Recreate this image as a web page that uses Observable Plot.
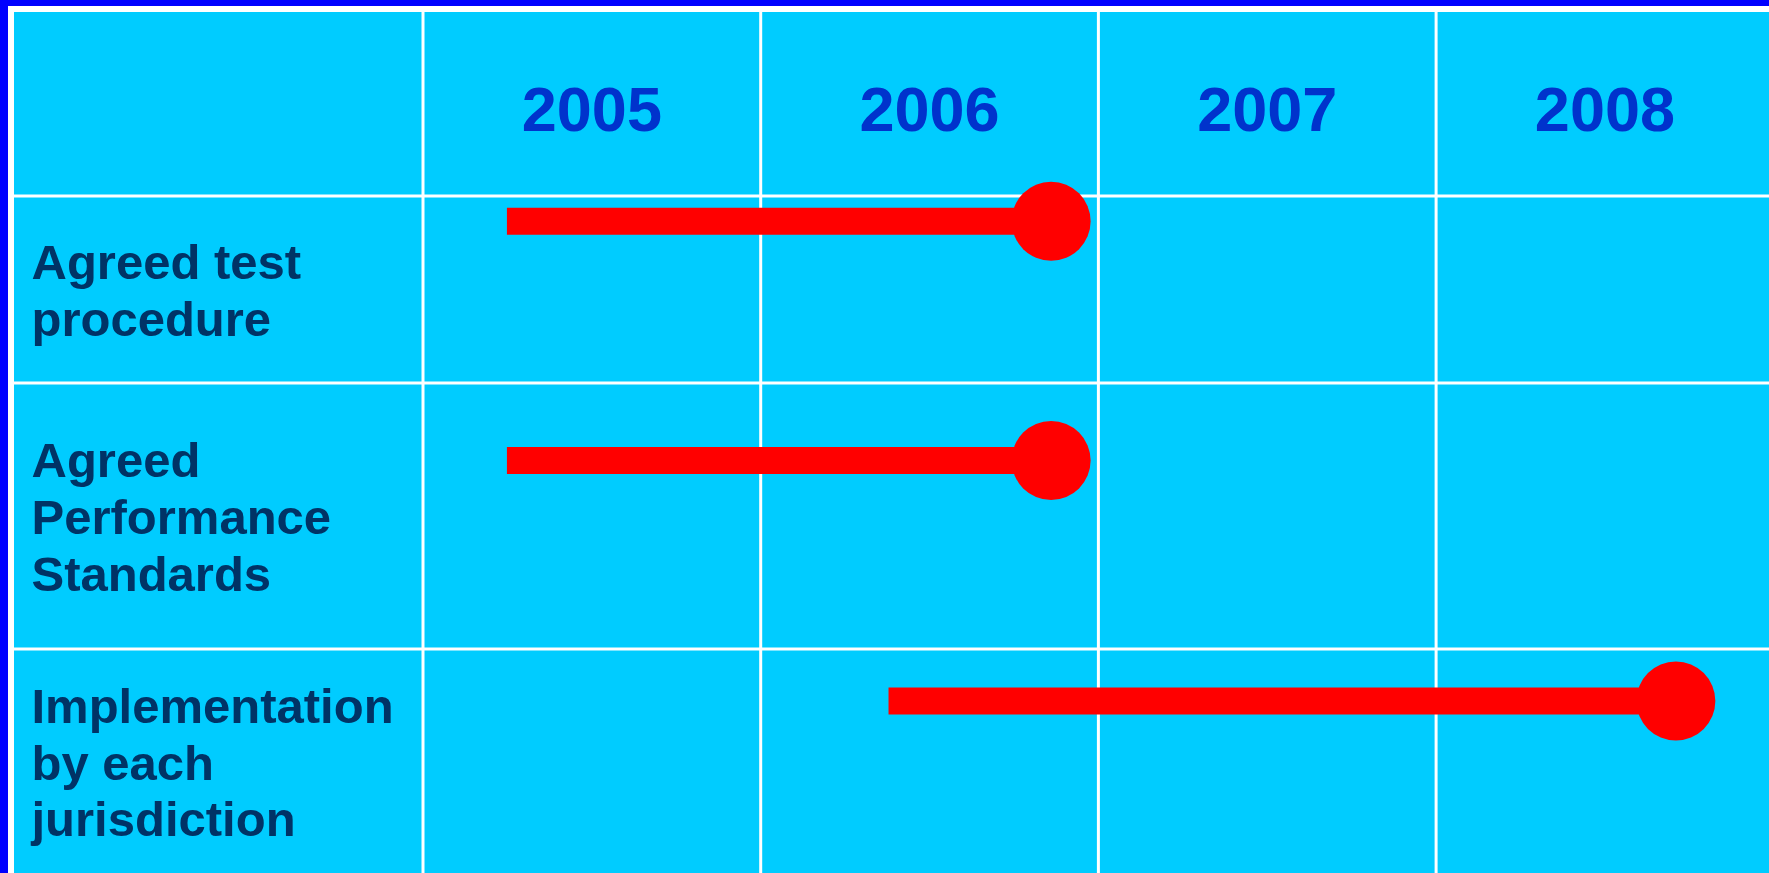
<!DOCTYPE html>
<html>
<head>
<meta charset="utf-8">
<script src="https://cdn.jsdelivr.net/npm/d3@7"></script>
<script src="https://cdn.jsdelivr.net/npm/@observablehq/plot@0.6"></script>
<style>
  html, body { margin: 0; padding: 0; background: #0000FF; overflow: hidden; width: 1769px; height: 873px; }
  #frame { position: absolute; left: 8px; top: 6px; width: 1761px; height: 867px; background: #FFFFFF; }
  #chart { position: absolute; left: 6px; top: 6px; }
  #chart svg { display: block; }
</style>
</head>
<body>
<div id="frame"><div id="chart"></div></div>
<script>
// ---- data ----
const years = [2005, 2006, 2007, 2008];
const tasks = ["Agreed test\nprocedure", "Agreed\nPerformance\nStandards", "Implementation\nby each\njurisdiction"];
const startYears = [2005.25, 2005.25, 2006.38];
const endYears = [2006.86, 2006.86, 2008.71];

// ---- layout (pixels, identity y scale) ----
const W = 1755, H = 861;
const rowEdges = [0, 183.5, 370.5, 636.5, H];
const barY = [208.75, 448, 688.5];
const rowCenter = i => (rowEdges[i + 1] + rowEdges[i + 2]) / 2;
const headerCenter = (rowEdges[0] + rowEdges[1]) / 2;

const taskRows = tasks.map((t, i) => ({
  label: t, start: startYears[i], end: endYears[i], yc: rowCenter(i), yb: barY[i]
}));
const yearRows = years.map(y => ({year: y, xc: y + 0.5}));

const font = "'Liberation Sans', Arial, Helvetica, sans-serif";

const chart = Plot.plot({
  width: W,
  height: H,
  marginLeft: 0, marginRight: 0, marginTop: 0, marginBottom: 0,
  x: {domain: [2005, 2009], range: [408.5, 1759.3], axis: null},
  y: {type: "identity", axis: null},
  style: {background: "#00CCFF", fontFamily: font, overflow: "visible"},
  marks: [
    // grid
    Plot.ruleX(years, {x: d => d, stroke: "#FFFFFF", strokeWidth: 3}),
    Plot.ruleY(rowEdges.slice(1, 4), {y: d => d, stroke: "#FFFFFF", strokeWidth: 3}),
    // year headers
    Plot.text(yearRows, {
      x: "xc", y: () => headerCenter, dy: 7, text: d => String(d.year),
      fill: "#0033CC", fontSize: 63, fontWeight: "bold", textAnchor: "middle", lineAnchor: "middle"
    }),
    // task labels
    Plot.text(taskRows, {
      frameAnchor: "left", dx: 17, y: "yc", text: "label",
      fill: "#003366", fontSize: 49, fontWeight: "bold", textAnchor: "start",
      lineAnchor: "middle", lineHeight: 1.163
    }),
    // bars
    Plot.ruleY(taskRows, {x1: "start", x2: "end", y: "yb", stroke: "#FF0000", strokeWidth: 27}),
    Plot.dot(taskRows, {x: "end", y: "yb", r: 39.5, fill: "#FF0000", stroke: "none"})
  ]
});
document.getElementById("chart").appendChild(chart);
</script>
</body>
</html>
